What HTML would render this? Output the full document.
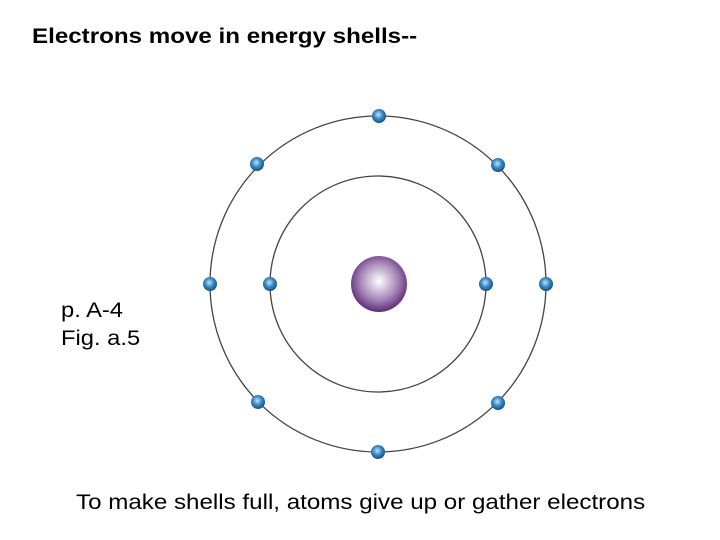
<!DOCTYPE html>
<html><head><style>
body{margin:0;width:720px;height:540px;background:#fff;overflow:hidden;position:relative;font-family:"Liberation Sans",sans-serif}
.t{position:absolute;white-space:nowrap;color:#000;transform-origin:0 0;transform:scaleX(1.15)}
</style></head><body>
<div class="t" style="left:32px;top:25px;font-size:21px;font-weight:bold">Electrons move in energy shells--</div>
<div class="t" style="left:61px;top:297px;font-size:21px;line-height:28px;transform:scaleX(1.13)">p. A-4<br>Fig. a.5</div>
<div class="t" style="left:76px;top:491px;font-size:21px">To make shells full, atoms give up or gather electrons</div>
<svg width="720" height="540" style="position:absolute;left:0;top:0">
<defs>
<radialGradient id="n" cx="0.5" cy="0.45" r="0.55"><stop offset="0" stop-color="#ffffff"/><stop offset="0.6" stop-color="#a788b8"/><stop offset="1" stop-color="#5e2a78"/></radialGradient>
<radialGradient id="e" cx="0.45" cy="0.4" r="0.6"><stop offset="0" stop-color="#bfe4ff"/><stop offset="0.5" stop-color="#3c8cc8"/><stop offset="1" stop-color="#14507e"/></radialGradient>
</defs>
<circle cx="378" cy="284" r="108" fill="none" stroke="#444" stroke-width="1.3"/>
<circle cx="378" cy="284" r="168" fill="none" stroke="#444" stroke-width="1.3"/>
<circle cx="379" cy="284" r="28" fill="url(#n)"/>
<g fill="url(#e)">
<circle cx="270" cy="284" r="7"/><circle cx="486" cy="284" r="7"/>
<circle cx="210" cy="284" r="7"/><circle cx="546" cy="284" r="7"/>
<circle cx="379" cy="116" r="7"/><circle cx="378" cy="452" r="7"/>
<circle cx="257" cy="164" r="7"/><circle cx="498" cy="165" r="7"/>
<circle cx="258" cy="402" r="7"/><circle cx="498" cy="403" r="7"/>
</g>
</svg>
</body></html>
